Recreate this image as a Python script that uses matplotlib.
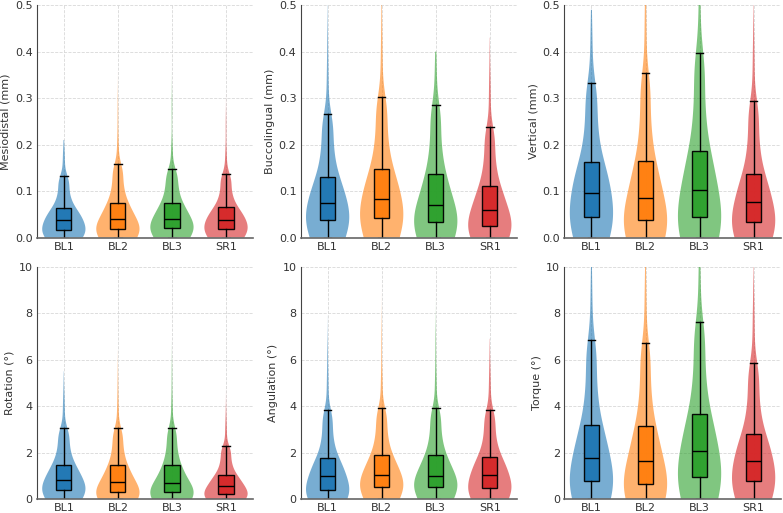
import numpy as np
import matplotlib.pyplot as plt

groups = ['BL1', 'BL2', 'BL3', 'SR1']
colors = ['#1f77b4', '#ff7f0e', '#2ca02c', '#d62728']

# box stats per group: q1, median, q3, upper whisker (lower whisker is 0)
# violin body: quantiles at p = 0.05, 0.15, ..., 0.95
# violin tail: two far values and the tip of the tail
md_box = [[0.016, 0.037, 0.063, 0.133], [0.018, 0.039, 0.075, 0.158],
          [0.020, 0.040, 0.074, 0.147], [0.018, 0.038, 0.065, 0.137]]
md_q = [[0.004, 0.010, 0.016, 0.025, 0.033, 0.042, 0.052, 0.063, 0.087, 0.119],
        [0.0045, 0.011, 0.018, 0.027, 0.035, 0.046, 0.061, 0.075, 0.104, 0.141],
        [0.005, 0.012, 0.020, 0.029, 0.036, 0.047, 0.060, 0.074, 0.100, 0.132],
        [0.0045, 0.011, 0.018, 0.027, 0.034, 0.043, 0.054, 0.065, 0.090, 0.123]]
md_tk = [[0.16, 0.19], [0.19, 0.27], [0.18, 0.28], [0.165, 0.24]]
md_tail = [0.21, 0.36, 0.40, 0.32]

bl_box = [[0.037, 0.074, 0.130, 0.266], [0.042, 0.084, 0.148, 0.303],
          [0.034, 0.070, 0.136, 0.286], [0.026, 0.060, 0.112, 0.237]]
bl_q = [[0.009, 0.022, 0.037, 0.054, 0.067, 0.085, 0.108, 0.130, 0.178, 0.239],
        [0.010, 0.025, 0.042, 0.061, 0.076, 0.097, 0.122, 0.148, 0.202, 0.272],
        [0.0085, 0.020, 0.034, 0.050, 0.063, 0.083, 0.110, 0.136, 0.188, 0.256],
        [0.0065, 0.016, 0.026, 0.041, 0.053, 0.070, 0.091, 0.112, 0.156, 0.212]]
bl_tk = [[0.32, 0.42], [0.36, 0.46], [0.33, 0.37], [0.29, 0.36]]
bl_tail = [0.52, 0.55, 0.40, 0.43]

vt_box = [[0.045, 0.097, 0.163, 0.333], [0.037, 0.086, 0.164, 0.353],
          [0.044, 0.102, 0.187, 0.398], [0.034, 0.076, 0.137, 0.293]]
vt_q = [[0.011, 0.027, 0.045, 0.068, 0.087, 0.110, 0.137, 0.163, 0.223, 0.299],
        [0.009, 0.022, 0.037, 0.059, 0.076, 0.102, 0.133, 0.164, 0.230, 0.315],
        [0.011, 0.026, 0.044, 0.070, 0.090, 0.119, 0.153, 0.187, 0.261, 0.356],
        [0.0085, 0.020, 0.034, 0.053, 0.068, 0.088, 0.113, 0.137, 0.192, 0.262]]
vt_tk = [[0.39, 0.45], [0.42, 0.50], [0.45, 0.52], [0.35, 0.43]]
vt_tail = [0.49, 0.55, 0.55, 0.50]

rot_box = [[0.40, 0.83, 1.49, 3.04], [0.30, 0.73, 1.45, 3.04],
           [0.30, 0.69, 1.45, 3.07], [0.23, 0.57, 1.06, 2.28]]
rot_q = [[0.10, 0.24, 0.40, 0.59, 0.74, 0.96, 1.23, 1.49, 2.03, 2.73],
         [0.075, 0.18, 0.30, 0.49, 0.64, 0.87, 1.16, 1.45, 2.01, 2.72],
         [0.075, 0.18, 0.30, 0.48, 0.61, 0.84, 1.15, 1.45, 2.02, 2.75],
         [0.06, 0.14, 0.23, 0.38, 0.50, 0.67, 0.86, 1.06, 1.49, 2.04]]
rot_tk = [[3.7, 4.6], [3.7, 5.0], [3.8, 5.3], [2.8, 3.6]]
rot_tail = [5.5, 6.4, 6.8, 5.0]

ang_box = [[0.40, 1.00, 1.76, 3.84], [0.53, 1.03, 1.88, 3.91],
           [0.53, 1.00, 1.88, 3.91], [0.47, 1.05, 1.83, 3.82]]
ang_q = [[0.10, 0.24, 0.40, 0.67, 0.88, 1.15, 1.46, 1.76, 2.49, 3.42],
         [0.13, 0.32, 0.53, 0.76, 0.93, 1.20, 1.54, 1.88, 2.59, 3.50],
         [0.13, 0.32, 0.53, 0.74, 0.91, 1.18, 1.53, 1.88, 2.59, 3.50],
         [0.12, 0.28, 0.47, 0.73, 0.93, 1.21, 1.52, 1.83, 2.53, 3.42]]
ang_tk = [[4.7, 6.2], [4.8, 6.8], [4.8, 6.6], [4.6, 5.8]]
ang_tail = [7.9, 9.3, 9.0, 6.9]

tq_box = [[0.77, 1.76, 3.21, 6.86], [0.67, 1.65, 3.15, 6.73],
          [0.97, 2.06, 3.67, 7.61], [0.77, 1.63, 2.79, 5.85]]
tq_q = [[0.19, 0.46, 0.77, 1.22, 1.56, 2.05, 2.63, 3.21, 4.49, 6.13],
        [0.17, 0.40, 0.67, 1.11, 1.45, 1.95, 2.55, 3.15, 4.40, 6.01],
        [0.24, 0.58, 0.97, 1.46, 1.84, 2.38, 3.03, 3.67, 5.05, 6.82],
        [0.19, 0.46, 0.77, 1.16, 1.46, 1.86, 2.33, 2.79, 3.86, 5.24]]
tq_tk = [[8.0, 9.5], [7.9, 9.3], [8.8, 10.0], [7.0, 8.6]]
tq_tail = [10.5, 10.5, 10.5, 10.5]

panels = [
    ('Mesiodistal (mm)', 0.5, md_box, md_q, md_tk, md_tail),
    ('Buccolingual (mm)', 0.5, bl_box, bl_q, bl_tk, bl_tail),
    ('Vertical (mm)', 0.5, vt_box, vt_q, vt_tk, vt_tail),
    ('Rotation (°)', 10, rot_box, rot_q, rot_tk, rot_tail),
    ('Angulation (°)', 10, ang_box, ang_q, ang_tk, ang_tail),
    ('Torque (°)', 10, tq_box, tq_q, tq_tk, tq_tail),
]


def density(y, body, far):
    # gaussian kde, body knots weight 0.1, far knots lighter and wider,
    # half reflected at 0
    body = np.array(body)
    h = 0.5 * body.std()
    out = np.zeros_like(y)
    for x in body:
        out += 0.1 * (np.exp(-0.5 * ((y - x) / h) ** 2)
                      + 0.5 * np.exp(-0.5 * ((y + x) / h) ** 2)) / h
    for x, w in zip(far, [0.03, 0.01]):
        out += w * np.exp(-0.5 * ((y - x) / (1.5 * h)) ** 2) / (1.5 * h)
    return out


fig, axes = plt.subplots(2, 3, figsize=(7.83, 5.13), dpi=100)
fig.subplots_adjust(left=0.047, right=0.997, top=0.99, bottom=0.027,
                    wspace=0.22, hspace=0.125)
pos = [1, 2, 3, 4]

for ax, (label, top, box, qs, tks, tails) in zip(axes.flat, panels):
    vp = []
    for q, tk, t in zip(qs, tks, tails):
        coords = np.linspace(0, t, 400)
        vp.append({'coords': coords, 'vals': density(coords, q, tk),
                   'mean': np.mean(q), 'median': np.median(q),
                   'min': 0, 'max': t})
    parts = ax.violin(vp, positions=pos, widths=0.8, showextrema=False)
    for body, c in zip(parts['bodies'], colors):
        body.set_facecolor(c)
        body.set_edgecolor('none')
        body.set_alpha(0.6)

    stats = [{'whislo': 0, 'q1': b[0], 'med': b[1], 'q3': b[2],
              'whishi': b[3], 'fliers': []} for b in box]
    bp = ax.bxp(stats, positions=pos, widths=0.28, patch_artist=True,
                showfliers=False,
                medianprops=dict(color='black', linewidth=1),
                whiskerprops=dict(color='black', linewidth=1),
                capprops=dict(color='black', linewidth=1),
                boxprops=dict(edgecolor='black', linewidth=1))
    for patch, c in zip(bp['boxes'], colors):
        patch.set_facecolor(c)
        patch.set_alpha(0.95)

    ax.set_xlim(0.5, 4.5)
    ax.set_ylim(0, top)
    ax.set_xticks(pos)
    ax.set_xticklabels(groups)
    ax.set_ylabel(label, fontsize=8, color='#333333', labelpad=3)
    ax.grid(True, linestyle='--', color='#d8d8d8', linewidth=0.6)
    ax.set_axisbelow(True)
    ax.tick_params(length=0, labelsize=8, colors='#333333', pad=3)
    ax.spines['top'].set_visible(False)
    ax.spines['right'].set_visible(False)
    ax.spines['left'].set_color('#444444')
    ax.spines['bottom'].set_color('#666666')
    ax.spines['bottom'].set_linewidth(1.2)

fig.savefig('out.png', dpi=100)
